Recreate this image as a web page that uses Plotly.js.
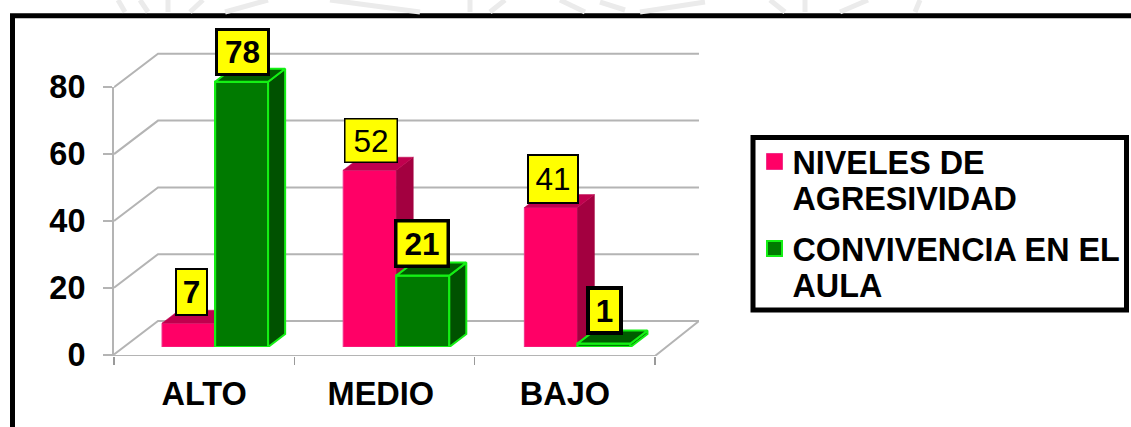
<!DOCTYPE html>
<html><head><meta charset="utf-8">
<script src="https://cdn.plot.ly/plotly-3.0.1.min.js"></script>
<style>html,body{margin:0;padding:0;background:#fff;overflow:hidden}</style>
</head><body><div id="chart" style="width:1131px;height:427px"></div>
<script>
const categories = ["ALTO", "MEDIO", "BAJO"];
const categoryPositions = [0, 0.98, 2];
const agresividad = [7, 52, 41];
const convivencia = [78, 21, 1];
const seriesNames = ["NIVELES DE<br>AGRESIVIDAD", "CONVIVENCIA EN EL<br>AULA"];
const yTicks = [0, 20, 40, 60, 80];
const boundaries = [-0.5, 0.5, 1.5, 2.5];

const W = 1131, H = 427;
const FONT = '"Liberation Sans", Arial, sans-serif';
const dx = v => v / W, dy = v => 1 - v / H;

// depth of the pseudo 3D wall and of the columns (axis units)
const wallX = 44 / 180.33, wallY = 33.5 / 3.34;
const barW = 53 / 181, depthX = 17 / 181, depthY = 13 / 3.4;

const grid = { x: [], y: [] };
yTicks.forEach(t => {
  grid.x.push(-0.5, -0.5 + wallX, 2.5 + wallX, null);
  grid.y.push(t, t + wallY, t + wallY, null);
});
grid.x.push(-0.5, 2.5, 2.5 + wallX);
grid.y.push(-0.45, -0.45, wallY);

function faces(values, sign) {
  const side = { x: [], y: [] }, top = { x: [], y: [] };
  values.forEach((v, i) => {
    const l = i + (sign < 0 ? -barW : 0), r = l + barW;
    side.x.push(r, r + depthX, r + depthX, r, r, null);
    side.y.push(0, depthY, v + depthY, v, 0, null);
    top.x.push(l, l + depthX, r + depthX, r, l, null);
    top.y.push(v, v + depthY, v + depthY, v, v, null);
  });
  return { side, top };
}
function poly(p, fill, line, xa, ya, lw) {
  return { type: 'scatter', mode: 'lines', x: p.x, y: p.y, xaxis: xa, yaxis: ya, fill: 'toself',
    fillcolor: fill, line: { color: line, width: lw }, showlegend: false, hoverinfo: 'skip' };
}
const PINK = '#ff0066', PINK_SIDE = '#a30040', PINK_TOP = '#c0004e', PINK_EDGE = '#f0308a';
const GREEN = '#007a00', GREEN_SIDE = '#005200', GREEN_TOP = '#005c00', LIME = '#14f014';
const fp = faces(agresividad, -1), fg = faces(convivencia, 1);

const traces = [
  { type: 'scatter', mode: 'lines', x: grid.x, y: grid.y, xaxis: 'x', yaxis: 'y',
    line: { color: '#b4b4b4', width: 2 }, showlegend: false, hoverinfo: 'skip' },
  poly(fp.side, PINK_SIDE, PINK_SIDE, 'x2', 'y2', 0.5),
  poly(fp.top, PINK_TOP, PINK_TOP, 'x2', 'y2', 0.5),
  { type: 'bar', x: categories.map((c, i) => i - barW / 2), y: agresividad, width: barW, xaxis: 'x2', yaxis: 'y2',
    marker: { color: PINK, line: { color: PINK_EDGE, width: 1 } }, showlegend: false },
  poly(fg.side, GREEN_SIDE, LIME, 'x3', 'y3', 2),
  poly(fg.top, GREEN_TOP, LIME, 'x3', 'y3', 2),
  { type: 'bar', x: categories.map((c, i) => i + barW / 2), y: convivencia, width: barW, xaxis: 'x3', yaxis: 'y3',
    marker: { color: GREEN, line: { color: LIME, width: 2.2 } }, showlegend: false },
  { type: 'scatter', mode: 'markers', x: [null], y: [null], xaxis: 'x', yaxis: 'y', name: seriesNames[0],
    marker: { symbol: 'square', size: 16, color: PINK, line: { color: PINK_EDGE, width: 1 } } },
  { type: 'scatter', mode: 'markers', x: [null], y: [null], xaxis: 'x', yaxis: 'y', name: seriesNames[1],
    marker: { symbol: 'square', size: 15, color: GREEN, line: { color: LIME, width: 2 } } },
  // empty trace so that the visible tick axes are drawn
  { type: 'scatter', mode: 'lines', x: [null], y: [null], xaxis: 'x4', yaxis: 'y4', showlegend: false, hoverinfo: 'skip' }
];

// label styling per column: [bold, border, width, height, xshift, yshift]
const pinkStyle = [[true, 2, 29, 44, 3, 7], [false, 1.5, 51, 42, 1, 7], [false, 2, 48, 46, 2, 4]];
const greenStyle = [[true, 3, 49, 42, 1, 6], [true, 3.5, 49, 42, -1, 8], [true, 4, 29, 41, 1, 9]];
function label(v, i, x, st, xa, ya) {
  return { x, y: v, xref: xa, yref: ya, text: st[0] ? '<b>' + v + '</b>' : String(v), showarrow: false,
    xanchor: 'center', yanchor: 'bottom', xshift: st[4], yshift: st[5], width: st[2], height: st[3],
    bgcolor: '#ffff00', bordercolor: '#000', borderwidth: st[1], borderpad: 0,
    font: { family: FONT, size: 31.5, color: '#000' } };
}
const annotations = [
  ...agresividad.map((v, i) => label(v, i, i - barW / 2, pinkStyle[i], 'x2', 'y2')),
  ...convivencia.map((v, i) => label(v, i, i + barW / 2, greenStyle[i], 'x3', 'y3'))
];

// faint watermark strokes above the frame
const wm = [[118,0,125,12],[140,0,148,12],[168,0,168,12],[190,12,203,0],[225,12,268,0],[330,0,420,12],[470,12,470,0],
  [490,12,505,0],[560,0,585,12],[600,2,625,10],[640,12,705,2],[770,0,785,12],[805,12,805,0],[840,12,868,0],[915,12,920,0]];
const shapes = [
  { type: 'rect', xref: 'paper', yref: 'paper', x0: dx(12.5), x1: dx(1150), y0: dy(15.8), y1: dy(450),
    line: { color: '#000', width: 5 }, fillcolor: '#fff', layer: 'below' },
  { type: 'rect', xref: 'paper', yref: 'paper', x0: dx(753), x1: dx(1126.5), y0: dy(137.5), y1: dy(310),
    line: { color: '#000', width: 5 }, fillcolor: '#fff', layer: 'above' },
  ...wm.map(s => ({ type: 'line', xref: 'paper', yref: 'paper', x0: dx(s[0]), y0: dy(s[1]), x1: dx(s[2]), y1: dy(s[3]),
    line: { color: '#ebebeb', width: 5 }, layer: 'below' }))
];

const barAxisX = d => ({ domain: d, range: [-0.5, 2.5], visible: false, fixedrange: true });
const barAxisY = (d, anchor) => ({ domain: d, range: [0, 100], visible: false, anchor, fixedrange: true });
const bx = [dx(124.5), dx(668)], by = [dy(347), dy(347 - 340)];
const hiddenAxis = { visible: false, fixedrange: true };

const layout = {
  width: W, height: H, autosize: false, margin: { l: 0, r: 0, t: 0, b: 0 },
  paper_bgcolor: '#fff', plot_bgcolor: 'rgba(0,0,0,0)', barmode: 'overlay', showlegend: true,
  // wall and floor lines
  xaxis: { ...hiddenAxis, domain: [dx(114), dx(114 + 180.33 * (3 + wallX))], range: [-0.5, 2.5 + wallX], anchor: 'y' },
  yaxis: { ...hiddenAxis, domain: [dy(356), dy(356 - 3.34 * 100.45)], range: [-0.45, 100], anchor: 'x' },
  xaxis2: { ...barAxisX(bx), anchor: 'y2' }, yaxis2: barAxisY(by, 'x2'),
  xaxis3: { ...barAxisX(bx), anchor: 'y3' }, yaxis3: barAxisY(by, 'x3'),
  // visible axes with the ticks and their labels
  xaxis4: { domain: [dx(114), dx(655)], range: [-0.5, 2.5], anchor: 'y4', tickmode: 'array', tickvals: categoryPositions, ticktext: categories,
    ticks: '', showgrid: false, zeroline: false, showline: false, ticklabelstandoff: 15,
    tickfont: { family: FONT, size: 32.5, color: '#000', weight: 'bold' },
    minor: { tickmode: 'array', tickvals: boundaries, ticks: 'outside', ticklen: 8, tickwidth: 1.5, tickcolor: '#9a9a9a', showgrid: false } },
  yaxis4: { domain: [dy(356), dy(87)], range: [-0.45, 80], anchor: 'x4', tickmode: 'array', tickvals: yTicks,
    ticks: 'outside', ticklen: 9, tickwidth: 2, tickcolor: '#b4b4b4', showgrid: false, zeroline: false,
    showline: true, linecolor: '#b4b4b4', linewidth: 2, ticklabelstandoff: 11,
    tickfont: { family: FONT, size: 32.5, color: '#000', weight: 'bold' } },
  legend: { x: dx(754.5), y: dy(134), xanchor: 'left', yanchor: 'top', bgcolor: 'rgba(0,0,0,0)', borderwidth: 0,
    valign: 'top', font: { family: FONT, size: 32.3, color: '#000', weight: 'bold' }, itemclick: false, itemdoubleclick: false },
  annotations, shapes
};
Plotly.newPlot('chart', traces, layout, { displayModeBar: false, staticPlot: true }).then(gd => {
  // the reference sets its legend lines tighter and nearer the swatch than Plotly's defaults
  gd.querySelectorAll('.legend .legendtext').forEach(t => {
    const x = parseFloat(t.getAttribute('x')) - 2;
    t.setAttribute('x', x);
    t.querySelectorAll('tspan.line').forEach((s, i) => {
      s.setAttribute('x', x);
      if (i > 0) s.setAttribute('dy', (36 * i) + 'px');
    });
  });
});
</script></body></html>
